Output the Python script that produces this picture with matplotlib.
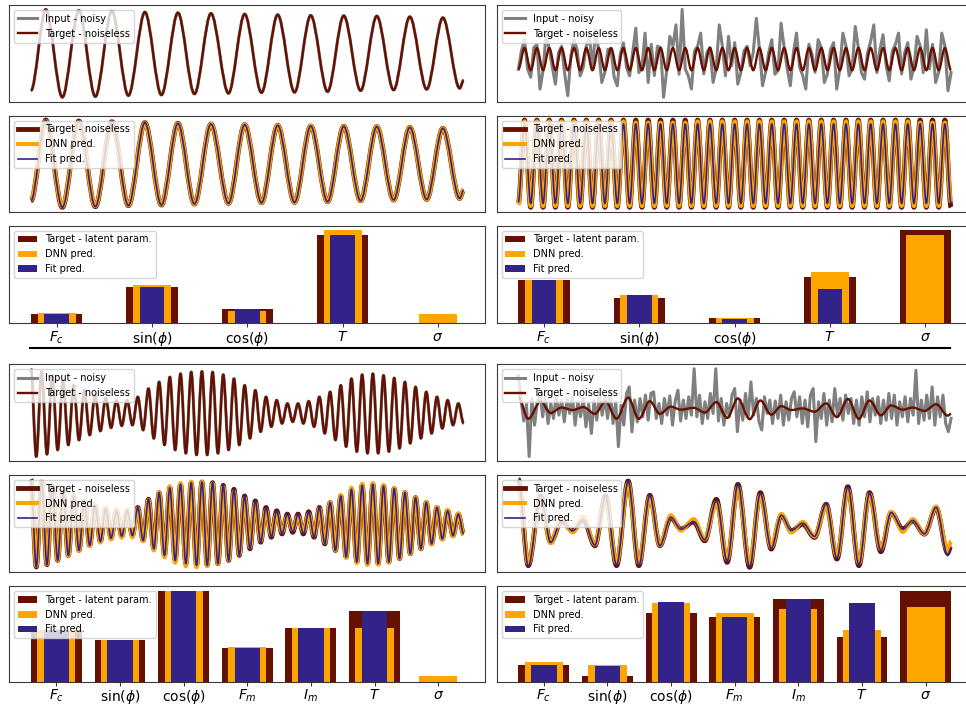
import matplotlib
matplotlib.use("Agg")
import matplotlib.pyplot as plt
from matplotlib.path import Path
from matplotlib.patches import PathPatch
from matplotlib.lines import Line2D

C_TARGET = "#661100"
C_DNN = "orange"
C_FIT = "#332288"
C_NOISY = "gray"

# ---------------- example A: damped carrier, noise-free input ----------------
a_t = [0, 45, 95, 145, 195, 245, 295, 345, 395, 445, 495, 545, 598, 647, 698,
       747, 798, 847, 898, 947, 998, 1047, 1098, 1147, 1198, 1247, 1298, 1310]
a_target = [-11.3, 13.2, -13.3, 12.9, -13.1, 12.7, -12.8, 12.4, -12.6, 12.2, -12.3,
            12.0, -12.1, 11.8, -11.9, 11.6, -11.8, 11.4, -11.6, 11.3, -11.3, 11.2,
            -11.1, 11.0, -10.9, 10.7, -10.6, -8.1]
a_input = a_target
a_dnn = [-11.0, 12.9, -13.0, 12.6, -12.9, 12.4, -12.7, 12.2, -12.5, 12.1, -12.3,
         12.0, -12.1, 11.8, -11.9, 11.6, -11.8, 11.4, -11.6, 11.3, -11.3, 11.2,
         -11.1, 11.0, -10.9, 10.7, -10.6, -8.0]
a_fit = a_target

# ---------------- example B: carrier with strong noise ----------------
b_t = [0, 5, 10, 15, 20, 25, 30, 35, 40, 45, 50, 55, 60, 65, 70, 75, 80, 85, 90, 95,
       100, 105, 110, 115, 120, 125, 130, 135, 140, 145, 150, 155, 160, 165, 170, 175,
       180, 185, 190, 195, 200, 205, 210, 215, 220, 225, 230, 235, 240, 245, 250, 255,
       260, 265, 270, 275, 280, 285, 290, 295, 300, 305, 310, 315, 320, 325, 330, 335,
       340, 345, 350]
b_target = [-3.1, 3.4, -3.4, 3.4, -3.4, 3.4, -3.4, 3.4, -3.4, 3.4, -3.4, 3.4, -3.4,
            3.4, -3.4, 3.4, -3.4, 3.4, -3.4, 3.4, -3.4, 3.4, -3.4, 3.4, -3.4, 3.4,
            -3.4, 3.4, -3.4, 3.4, -3.4, 3.4, -3.4, 3.4, -3.4, 3.4, -3.4, 3.4, -3.4,
            3.4, -3.4, 3.4, -3.4, 3.4, -3.4, 3.4, -3.4, 3.4, -3.4, 3.4, -3.4, 3.4,
            -3.4, 3.4, -3.4, 3.4, -3.4, 3.4, -3.4, 3.4, -3.4, 3.4, -3.4, 3.4, -3.4,
            3.4, -3.4, 3.4, -3.4, 3.4, -3.4]
b_dnn = [-3.2, 3.3, -3.3, 3.3, -3.3, 3.3, -3.3, 3.3, -3.3, 3.3, -3.3, 3.3, -3.3,
         3.3, -3.3, 3.3, -3.3, 3.3, -3.3, 3.2, -3.3, 3.2, -3.3, 3.2, -3.3, 3.2,
         -3.3, 3.2, -3.3, 3.3, -3.3, 3.3, -3.3, 3.3, -3.3, 3.3, -3.3, 3.3, -3.3,
         3.3, -3.3, 3.3, -3.3, 3.3, -3.3, 3.3, -3.3, 3.3, -3.3, 3.3, -3.3, 3.3,
         -3.3, 3.3, -3.3, 3.3, -3.3, 3.3, -3.3, 3.3, -3.3, 3.3, -3.3, 3.3, -3.3,
         3.2, -3.3, 3.2, -3.3, 3.2, -3.0]
b_fit = [-3.0, 3.1, -3.1, 3.1, -3.1, 3.1, -3.1, 3.1, -3.1, 3.1, -3.1, 3.1, -3.1,
         3.1, -3.1, 3.1, -3.1, 3.1, -3.1, 3.1, -3.1, 3.1, -3.1, 3.1, -3.1, 3.1,
         -3.1, 3.1, -3.1, 3.1, -3.1, 3.1, -3.1, 3.1, -3.1, 3.1, -3.1, 3.1, -3.1,
         3.1, -3.1, 3.1, -3.1, 3.1, -3.1, 3.1, -3.1, 3.1, -3.1, 3.1, -3.1, 3.1,
         -3.1, 3.1, -3.1, 3.1, -3.1, 3.1, -3.1, 3.1, -3.1, 3.1, -3.1, 3.1, -3.1,
         3.1, -3.1, 3.1, -3.1, 3.1, -3.1]
b_noisy_t = [0, 2.5, 5, 7.5, 10, 12.5, 15, 17.5, 20, 22.5, 25, 27.5, 30, 32.5, 35, 37.5,
             40, 42.5, 45, 47.5, 50, 52.5, 55, 57.5, 60, 62.5, 65, 67.5, 70, 72.5, 75,
             77.5, 80, 82.5, 85, 87.5, 90, 92.5, 95, 97.5, 100, 102.5, 105, 107.5, 110,
             112.5, 115, 117.5, 120, 122.5, 125, 127.5, 130, 132.5, 135, 137.5, 140,
             142.5, 145, 147.5, 150, 152.5, 155, 157.5, 160, 162.5, 165, 167.5, 170,
             172.5, 175, 177.5, 180, 182.5, 185, 187.5, 190, 192.5, 195, 197.5, 200,
             202.5, 205, 207.5, 210, 212.5, 215, 217.5, 220, 222.5, 225, 227.5, 230,
             232.5, 235, 237.5, 240, 242.5, 245, 247.5, 250, 252.5, 255, 257.5, 260,
             262.5, 265, 267.5, 270, 272.5, 275, 277.5, 280, 282.5, 285, 287.5, 290,
             292.5, 295, 297.5, 300, 302.5, 305, 307.5, 310, 312.5, 315, 317.5, 320,
             322.5, 325, 327.5, 330, 332.5, 335, 337.5, 340, 342.5, 345, 347.5, 350]
b_noisy = [-3.1, 2.5, 5.9, -3.0, -5.5, 3.5, 4.4, -9.1, -3.5, 7.9, 3.0, -2.5,
           -7.6, 2.0, 3.9, -4.5, -11.1, 1.0, 5.9, 3.0, -5.1, -2.5, 4.0, 6.9,
           -3.0, 8.9, 2.5, -7.1, -4.0, 3.0, 2.9, -5.5, -8.1, 1.5, 4.9, -2.5,
           -5.1, 2.0, 9.4, -4.1, -2.5, 7.9, -7.1, 4.5, -5.0, 3.9, 3.5, -11.6,
           -3.5, 6.9, 4.0, 10.4, -4.6, 15.1, -3.0, -5.1, -9.1, 2.5, 3.9, 7.9,
           -4.5, 2.0, 3.5, -7.1, -3.0, 10.4, 4.0, -5.1, 6.9, -2.0, 5.0, -7.6,
           -4.0, 2.5, 3.9, -2.0, 2.0, 12.4, 3.0, -8.1, -4.0, 2.0, 5.9, -4.6,
           -3.5, 10.9, 3.5, -3.0, -8.1, 2.0, 7.9, -2.5, -5.0, -9.1, 4.5, 1.5,
           -4.0, 5.9, 3.5, -7.1, -4.5, 2.9, 5.0, -9.1, -3.0, 7.9, 4.0, -5.1,
           -3.0, 9.9, 3.5, -4.1, -6.1, 2.0, 5.5, 10.4, -4.1, 3.0, 7.4, -2.0,
           -6.6, 2.5, 4.5, 7.9, -4.5, 2.0, 5.0, -6.1, -2.5, 6.9, 4.0, -4.1,
           8.9, -3.0, 4.5, -7.1, -4.0, 7.9, 4.0, -9.6, -4.1]

# ---------------- example C: modulated carrier, noise-free input ----------------
c_t = [0, 5, 10, 15, 20, 25, 30, 35, 40, 45, 50, 55, 60, 65, 70, 75, 80, 85, 90, 95,
       100, 105, 110, 115, 120, 125, 130, 135, 140, 145, 150, 155, 160, 165, 170, 175,
       180, 185, 190, 195, 200, 205, 210, 215, 220, 225, 230, 235, 240, 245, 250, 255,
       260, 265, 270, 275, 280, 285, 290, 295, 300, 305, 310, 315, 320, 325, 330, 335,
       340, 345, 350, 355, 360, 365, 370, 375, 380, 385, 390, 395, 400, 405]
c_target = [13.3, -13.2, 12.5, -12.5, 11.3, -11.2, 9.8, -9.7, 8.3, -8.2, 6.8, -6.7,
            5.5, -5.5, 4.5, -4.5, 3.8, -3.9, 3.8, -3.7, 4.8, -5.2, 7.3, -7.7, 9.3, -9.7,
            10.8, -11.2, 11.8, -12.2, 12.3, -12.7, 12.5, -12.7, 12.3, -12.2, 11.5, -11.2,
            10.3, -9.7, 8.3, -7.7, 6.8, -5.7, 4.8, -4.2, 3.8, -3.2, 2.8, -2.7, 2.8, -3.2,
            3.5, -4.2, 4.8, -6.2, 6.3, -8.2, 8.3, -10.2, 10.3, -11.7, 11.5, -12.2, 11.8,
            -12.2, 11.3, -11.7, 10.5, -10.7, 9.3, -9.2, 7.8, -7.7, 6.3, -6.2, 4.8, -4.7,
            3.8, -3.7, 2.8, -3.2]
c_input = c_target
c_dnn = [12.9, -12.9, 12.3, -12.3, 11.2, -11.1, 9.8, -9.7, 8.4, -8.3, 7.0, -6.9,
         5.8, -5.8, 4.9, -4.9, 4.3, -4.3, 4.3, -4.2, 4.5, -5.4, 7.0, -8.2, 9.4, -10.3,
         11.2, -11.9, 12.2, -13.0, 12.6, -13.3, 12.5, -12.9, 12.0, -12.2, 11.0, -11.0,
         9.6, -9.4, 7.6, -7.2, 6.0, -5.2, 4.0, -3.6, 2.9, -2.6, 2.1, -2.0, 2.1, -2.5,
         2.8, -3.6, 4.4, -5.8, 6.3, -8.1, 8.6, -10.4, 10.8, -12.0, 12.0, -12.6, 12.2,
         -12.5, 11.6, -11.8, 10.6, -10.7, 9.3, -9.2, 7.8, -7.7, 6.4, -6.3, 5.0, -4.9,
         4.0, -3.9, 3.0, -3.3]
c_fit = c_target

# ---------------- example D: modulated carrier with strong noise ----------------
d_t = [0, 9.2, 20.6, 29.8, 40, 50.2, 60, 70.8, 80.6, 90.8, 101.5, 111.4, 121.5, 130.8,
       140.9, 150.2, 162.2, 172.3, 183.1, 193, 203, 213.8, 223.7, 233.8, 243.1, 252.3,
       263, 273.8, 284.6, 294.5, 304.6, 314.8, 324.6, 335.1, 344.6, 355.4, 364.6, 375.4,
       386.2, 396.9, 400]
d_target = [13.6, -12.4, 8.6, -5.4, 1.1, -1.9, 1.6, -6.4, 8.6, -12.4, 13.1, -12.4, 8.8,
            -6.4, 2.1, -1.4, 0.8, -4.9, 7.6, -11.4, 12.1, -12.9, 9.6, -7.4, 2.8, -1.9,
            0.1, -3.9, 6.1, -10.4, 11.4, -12.4, 9.6, -8.2, 3.6, -1.4, 1.1, -2.9, 5.1,
            -8.6, -6.4]
d_dnn = [12.8, -11.8, 8.2, -5.6, 2.0, -2.4, 2.4, -6.0, 8.0, -11.6, 12.4, -11.6, 8.2,
         -6.2, 2.8, -1.8, 1.6, -4.4, 6.6, -10.4, 11.2, -11.8, 8.8, -6.8, 3.2, -2.4,
         0.8, -3.6, 5.6, -9.6, 10.6, -11.6, 9.0, -7.4, 3.8, -2.2, 1.6, -2.8, 5.4,
         -8.0, -5.0]
d_fit = [13.4, -12.6, 8.6, -5.4, 1.2, -1.9, 1.6, -6.2, 8.4, -12.2, 13.0, -12.4, 8.8,
         -6.4, 2.2, -1.4, 0.9, -4.6, 7.2, -11.0, 12.0, -12.8, 9.4, -7.2, 2.8, -1.8,
         0.4, -3.6, 6.2, -10.2, 11.4, -12.2, 9.4, -7.8, 3.6, -1.4, 1.2, -2.8, 5.2,
         -9.4, -7.0]
d_noisy_t = [0, 2.5, 5, 7.5, 10, 12.5, 15, 17.5, 20, 22.5, 25, 27.5, 30, 32.5, 35, 37.5,
             40, 42.5, 45, 47.5, 50, 52.5, 55, 57.5, 60, 62.5, 65, 67.5, 70, 72.5, 75,
             77.5, 80, 82.5, 85, 87.5, 90, 92.5, 95, 97.5, 100, 102.5, 105, 107.5, 110,
             112.5, 115, 117.5, 120, 122.5, 125, 127.5, 130, 132.5, 135, 137.5, 140,
             142.5, 145, 147.5, 150, 152.5, 155, 157.5, 160, 162.5, 165, 167.5, 170,
             172.5, 175, 177.5, 180, 182.5, 185, 187.5, 190, 192.5, 195, 197.5, 200,
             202.5, 205, 207.5, 210, 212.5, 215, 217.5, 220, 222.5, 225, 227.5, 230,
             232.5, 235, 237.5, 240, 242.5, 245, 247.5, 250, 252.5, 255, 257.5, 260,
             262.5, 265, 267.5, 270, 272.5, 275, 277.5, 280, 282.5, 285, 287.5, 290,
             292.5, 295, 297.5, 300, 302.5, 305, 307.5, 310, 312.5, 315, 317.5, 320,
             322.5, 325, 327.5, 330, 332.5, 335, 337.5, 340, 342.5, 345, 347.5, 350,
             352.5, 355, 357.5, 360, 362.5, 365, 367.5, 370, 372.5, 375, 377.5, 380,
             382.5, 385, 387.5, 390, 392.5, 395, 397.5, 400]
d_noisy = [39.7, 10, -15, 5, -57.6, 12, -20, 8,
           18, -10, 14, -18, 6, -12, 15, -8,
           10, -16, 12, -6, 14, -20, 8, -10,
           12, -22, 5, -30, 9, -14, 17.9, -8,
           14, -12, 20, -18, 8, -45.7, 4, -20,
           18, 25.8, -28, 10, -16, 11.9, -10, 16,
           -14, 18, 19.9, -12, 6, -18, 12, -8,
           15, -20, 9, 21.8, -15, 10, -12, 14,
           -8, 47.6, -10, 16, -18, 8, -12, 18,
           -6, 47.6, -15, 12, -20, 6, -10, 16,
           23.8, -27.8, 10, -14, 18, -10, 31.8, -8,
           12, -16, -25.8, 14, -6, 10, -18, 9,
           -12, 16, -20, 8, -14, 12, 19.9, -10,
           14, -18, 10, -22, 16, 23.8, -39.7, 8,
           -12, 18, -20, 10, -16, 23.8, -8, 12,
           -14, 16, -6, 12, -18, 10, -20, 14,
           -10, 19.9, -16, 12, -8, 14, -18, 10,
           -14, 18, -12, 16, -20, 8, -10, 14,
           -16, 12, -8, 45.7, -18, 10, -14, 16,
           -12, 25.8, -20, 14, -10, 16, -18, -27.8,
           -12]

# ---------------- latent parameters ----------------
params_short = ["$F_c$", r"$\sin(\phi)$", r"$\cos(\phi)$", "$T$", r"$\sigma$"]
params_long = ["$F_c$", r"$\sin(\phi)$", r"$\cos(\phi)$", "$F_m$", "$I_m$", "$T$",
               r"$\sigma$"]

a_par_target = [0.098, 0.389, 0.153, 0.945, 0.0]
a_par_dnn = [0.109, 0.407, 0.128, 1.0, 0.098]
a_par_fit = [0.098, 0.389, 0.153, 0.945]

b_par_target = [0.466, 0.273, 0.062, 0.498, 1.0]
b_par_dnn = [0.466, 0.305, 0.062, 0.556, 0.945]
b_par_fit = [0.466, 0.305, 0.047, 0.374]

c_par_target = [0.564, 0.461, 1.0, 0.371, 0.592, 0.774, 0.0]
c_par_dnn = [0.564, 0.461, 1.0, 0.378, 0.592, 0.592, 0.062]
c_par_fit = [0.564, 0.461, 1.0, 0.371, 0.592, 0.774]

d_par_target = [0.183, 0.066, 0.751, 0.707, 0.904, 0.487, 1.0]
d_par_dnn = [0.212, 0.184, 0.860, 0.751, 0.799, 0.568, 0.816]
d_par_fit = [0.183, 0.173, 0.879, 0.714, 0.904, 0.860]

# ---------------- drawing helpers ----------------
W, H = 966, 705
LEG_FS = 7
SPINE = "#3a3a3a"
LW_INPUT, LW_TARGET1 = 2.2, 1.7
LW_TARGET2, LW_DNN, LW_FIT = 3.5, 3.0, 1.2


def smooth_wave(ax, t, v, color, lw, z):
    """Trace a waveform through its turning points with horizontal-tangent Beziers."""
    verts = [(t[0], v[0])]
    codes = [Path.MOVETO]
    for i in range(1, len(t)):
        d = (t[i] - t[i - 1]) / 3.0
        verts += [(t[i - 1] + d, v[i - 1]), (t[i] - d, v[i]), (t[i], v[i])]
        codes += [Path.CURVE4] * 3
    ax.add_patch(PathPatch(Path(verts, codes), fill=False, edgecolor=color, lw=lw,
                           zorder=z, joinstyle="round", capstyle="butt"))


def box(x, y, w, h):
    ax = fig.add_axes([x / W, 1 - (y + h) / H, w / W, h / H])
    for s in ax.spines.values():
        s.set_edgecolor(SPINE)
    return ax


def strip_ticks(ax):
    ax.set_xticks([])
    ax.set_yticks([])


def input_row(ax, t, target, noisy_t, noisy, smooth_input):
    if smooth_input:
        smooth_wave(ax, t, noisy, C_NOISY, LW_INPUT, 2)
    else:
        ax.plot(noisy_t, noisy, color=C_NOISY, lw=LW_INPUT, zorder=2)
    smooth_wave(ax, t, target, C_TARGET, LW_TARGET1, 3)
    ax.autoscale_view()
    strip_ticks(ax)
    handles = [Line2D([], [], color=C_NOISY, lw=LW_INPUT),
               Line2D([], [], color=C_TARGET, lw=LW_TARGET1)]
    ax.legend(handles, ["Input - noisy", "Target - noiseless"], loc="upper left",
              fontsize=LEG_FS)


def pred_row(ax, t, target, dnn, fit):
    smooth_wave(ax, t, target, C_TARGET, LW_TARGET2, 2)
    smooth_wave(ax, t, dnn, C_DNN, LW_DNN, 3)
    smooth_wave(ax, t, fit, C_FIT, LW_FIT, 4)
    ax.autoscale_view()
    strip_ticks(ax)
    handles = [Line2D([], [], color=C_TARGET, lw=LW_TARGET2),
               Line2D([], [], color=C_DNN, lw=LW_DNN),
               Line2D([], [], color=C_FIT, lw=LW_FIT)]
    ax.legend(handles, ["Target - noiseless", "DNN pred.", "Fit pred."],
              loc="upper left", fontsize=LEG_FS)


def param_row(ax, names, target, dnn, fit, widths):
    xs = list(range(len(names)))
    ax.bar(xs, target, width=widths[0], color=C_TARGET, label="Target - latent param.")
    ax.bar(xs, dnn, width=widths[1], color=C_DNN, label="DNN pred.")
    ax.bar(xs[:len(fit)], fit, width=widths[2], color=C_FIT, label="Fit pred.")
    ax.set_xticks(xs)
    ax.set_xticklabels(names, fontsize=10)
    ax.tick_params(axis="x", length=3, pad=1.5, color=SPINE)
    ax.set_yticks([])
    ax.legend(loc="upper left", fontsize=LEG_FS)


fig = plt.figure(figsize=(W / 100, H / 100), dpi=100)

XL, XR, AW = 9.3, 496.7, 476
top_rows = [(5, 96.7), (115.7, 96.0), (225.7, 97.6)]
bot_rows = [(364.3, 96.7), (475.0, 96.7), (586.0, 95.7)]
w_short = (0.54, 0.40, 0.26)
w_long = (0.8, 0.6, 0.4)

# example A (top left)
input_row(box(XL, top_rows[0][0], AW, top_rows[0][1]), a_t, a_target, None, a_input, True)
pred_row(box(XL, top_rows[1][0], AW, top_rows[1][1]), a_t, a_target, a_dnn, a_fit)
param_row(box(XL, top_rows[2][0], AW, top_rows[2][1]), params_short,
          a_par_target, a_par_dnn, a_par_fit, w_short)

# example B (top right)
input_row(box(XR, top_rows[0][0], AW, top_rows[0][1]), b_t, b_target, b_noisy_t, b_noisy, False)
pred_row(box(XR, top_rows[1][0], AW, top_rows[1][1]), b_t, b_target, b_dnn, b_fit)
param_row(box(XR, top_rows[2][0], AW, top_rows[2][1]), params_short,
          b_par_target, b_par_dnn, b_par_fit, w_short)

# example C (bottom left)
input_row(box(XL, bot_rows[0][0], AW, bot_rows[0][1]), c_t, c_target, None, c_input, True)
pred_row(box(XL, bot_rows[1][0], AW, bot_rows[1][1]), c_t, c_target, c_dnn, c_fit)
param_row(box(XL, bot_rows[2][0], AW, bot_rows[2][1]), params_long,
          c_par_target, c_par_dnn, c_par_fit, w_long)

# example D (bottom right)
input_row(box(XR, bot_rows[0][0], AW, bot_rows[0][1]), d_t, d_target, d_noisy_t, d_noisy, False)
pred_row(box(XR, bot_rows[1][0], AW, bot_rows[1][1]), d_t, d_target, d_dnn, d_fit)
param_row(box(XR, bot_rows[2][0], AW, bot_rows[2][1]), params_long,
          d_par_target, d_par_dnn, d_par_fit, w_long)

# divider between the two groups of examples
fig.add_artist(Line2D([30 / W, 950 / W], [1 - 348.3 / H] * 2, transform=fig.transFigure,
                      color="black", lw=1.5))

fig.savefig("out.png", dpi=100)
